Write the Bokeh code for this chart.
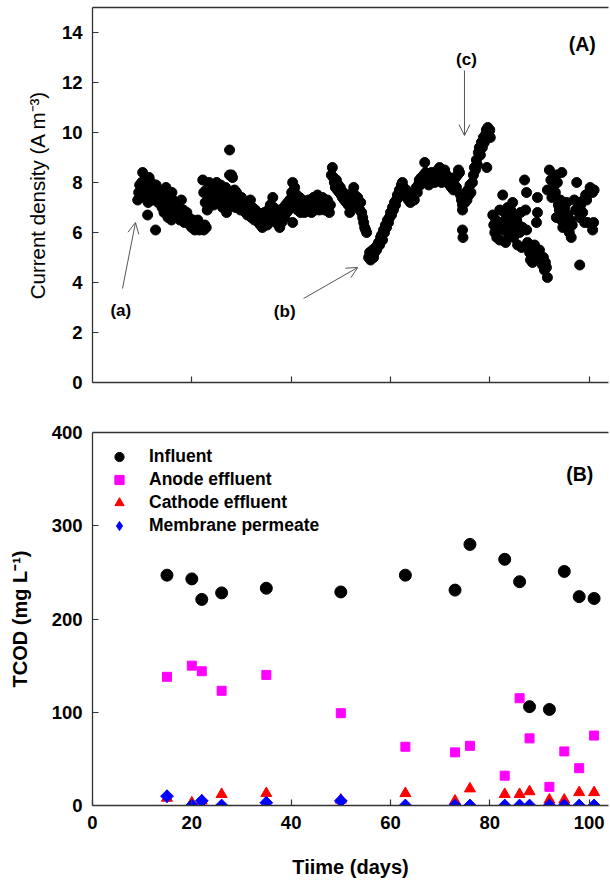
from bokeh.plotting import figure
from bokeh.layouts import column
from bokeh.models import (Range1d, LinearAxis, FixedTicker, Arrow, OpenHead,
                          Label, Legend, LegendItem)
from bokeh.embed import file_html
from bokeh.resources import INLINE

# ---------------- Panel A: current density (day, A m-3) ----------------
seg_start = [(9.1,7.3),(9.3,7.6),(9.5,7.9),(9.7,7.4),(9.9,8.0),(10.1,8.4),(10.3,7.7),(10.5,8.1),
             (10.7,7.5),(10.9,7.9),(11.1,6.7),(11.2,7.2),(11.4,8.2),(11.6,7.6),(11.8,8.0),(12.0,7.3),
             (12.2,7.8),(12.4,7.4),(12.7,6.1),(12.8,7.9),(13.0,7.5),(13.2,7.2),(13.4,7.7),(13.6,7.3),
             (13.8,7.6),(14.0,7.0),(14.2,7.4),(14.4,6.8),(14.6,7.7),(14.8,7.8),(15.0,7.1),(15.2,6.6),
             (15.4,7.5),(15.6,6.9),(15.9,6.5),(16.0,7.6),(16.2,7.3),(16.4,6.7),(16.6,7.1),(16.8,6.9),
             (17.0,6.6),(17.2,7.0),(17.4,6.8),(17.6,6.5),(17.9,7.3),(18.1,6.6),(18.3,6.9),(18.5,6.4),
             (18.7,6.7),(19.0,6.8),(19.2,6.4),(19.4,6.6),(19.6,6.3),(19.8,6.5),(20.0,6.2),(20.2,6.5),
             (20.4,6.3),(20.6,6.1),(20.8,6.4),(21.0,6.2),(21.2,6.5),(21.5,6.1),(21.7,6.3),(22.0,6.2),
             (22.4,6.1),(22.6,6.3),(22.9,6.2)]
seg_plateau = [(22.2,8.1),(22.4,7.6),(22.7,7.2),(22.9,7.7),(23.1,6.9),(23.3,7.5),(23.5,8.0),(23.7,7.3),
               (23.9,7.8),(24.2,7.9),(24.4,7.1),(24.6,7.6),(24.8,7.4),(25.0,8.0),(25.2,7.2),(25.4,7.7),
               (25.6,7.3),(25.8,7.9),(26.0,7.5),(26.2,7.0),(26.4,7.6),(26.6,7.2),(26.8,7.8),(27.0,6.8),
               (27.2,7.4),(27.4,7.1),(27.6,9.3),(27.6,8.3),(27.8,7.6),(28.0,8.3),(28.2,8.2),(28.4,7.3),
               (28.6,7.7),(28.8,7.0),(29.0,7.6),(29.2,7.3),(29.4,7.0),(29.6,7.2),(29.8,6.9),(30.0,7.4),
               (30.2,7.2),(30.4,6.9),(30.6,7.1),(30.8,6.8),(31.0,7.0),(31.2,6.7),(31.4,7.2),(31.6,6.9),
               (31.8,7.3),(32.0,6.6),(32.2,7.0),(32.4,6.7),(32.6,6.5),(32.8,6.9),(33.0,6.5),(33.2,6.8),
               (33.4,6.4),(33.6,6.7),(33.8,6.3),(34.0,6.6),(34.2,6.2),(34.4,6.5),(34.6,6.8),(34.8,6.4),
               (35.0,6.7),(35.2,6.3),(35.4,6.9),(35.6,6.5),(35.8,7.1),(36.0,6.8),(36.3,7.4),(36.5,7.0),
               (36.7,6.7),(36.9,6.4),(37.1,6.9),(37.3,6.6),(37.5,6.3),(37.7,6.2),(37.9,6.7),(38.1,6.4),
               (38.3,6.8),(38.5,7.0),(38.7,6.6),(38.9,7.1),(39.1,6.8),(39.3,7.2),(39.5,6.9),(39.7,7.3),
               (39.9,7.0),(40.1,7.6),(40.3,8.0),(40.3,6.4),(40.5,7.3),(40.7,7.8),(40.9,7.1),(41.1,7.5),
               (41.3,6.9),(41.5,7.2),(41.7,7.4),(41.9,6.8),(42.1,7.1),(42.3,7.3),(42.5,7.0),(42.7,6.8),
               (42.9,7.2),(43.1,7.0),(43.3,6.9),(43.5,7.3),(43.7,7.0),(43.9,7.2),(44.1,6.8),(44.3,7.1),
               (44.5,7.4),(44.7,7.0),(44.9,6.9),(45.1,7.3),(45.3,7.5),(45.5,7.1),(45.7,6.9),(45.9,7.2),
               (46.1,7.0),(46.3,7.4),(46.5,7.1),(46.7,6.9),(46.9,7.2),(47.1,7.0),(47.3,7.3),(47.5,7.0),
               (47.7,6.8),(47.9,7.1)]
seg_drop = [(48.1,8.3),(48.3,8.6),(48.5,8.2),(48.7,8.0),(48.9,7.8),(49.1,8.1),(49.3,7.7),(49.5,7.9),
            (49.7,7.6),(49.9,7.8),(50.1,7.5),(50.3,7.4),(50.5,7.6),(50.7,7.3),(50.9,7.5),(51.1,7.2),
            (51.3,7.4),(51.5,7.1),(51.8,6.8),(51.8,7.4),(52.0,7.5),(52.2,7.3),(52.4,7.6),(52.6,7.8),
            (52.8,7.5),(53.0,7.3),(53.2,7.1),(53.4,7.4),(53.6,7.0),(53.8,6.9),(54.0,7.2),(54.2,6.8),
            (54.4,6.6),(54.6,6.4),(54.8,6.2),(55.0,6.1),(55.2,6.0)]
seg_ramp = [(55.6,5.0),(55.8,5.2),(56.0,4.9),(56.2,5.1),(56.4,5.3),(56.6,5.0),(56.8,5.2),(57.0,5.4),
            (57.2,5.3),(57.4,5.5),(57.6,5.6),(57.8,5.5),(58.0,5.8),(58.2,5.9),(58.4,5.7),(58.6,6.1),
            (58.8,6.0),(59.0,6.3),(59.2,6.2),(59.4,6.5),(59.6,6.4),(59.8,6.6),(60.0,6.8),(60.2,6.7),
            (60.4,7.0),(60.6,6.9),(60.8,7.2),(61.0,7.1),(61.2,7.3),(61.4,7.5),(61.6,7.4),(61.8,7.7),
            (62.0,7.6),(62.2,7.9),(62.4,8.0),(62.6,7.8),(62.8,7.6),(63.0,7.5),(63.2,7.7),(63.4,7.4),
            (63.6,7.3),(63.8,7.5),(64.0,7.2),(64.2,7.4),(64.4,7.3),(64.6,7.5),(64.8,7.3),(65.0,7.6),
            (65.2,7.8),(65.4,7.6),(65.6,7.9),(65.8,8.1),(66.0,7.9),(66.2,8.2),(66.5,8.0),(66.7,8.3),
            (66.9,8.8),(67.1,8.4),(67.3,8.1),(67.5,8.3),(67.7,7.9),(67.9,8.2),(68.1,8.0),(68.3,8.4),
            (68.5,8.1),(68.7,8.3),(68.9,8.0),(69.1,8.4),(69.3,8.2),(69.5,8.5),(69.7,8.1),(69.9,8.6),
            (70.1,8.3),(70.3,8.0),(70.5,8.4),(70.7,8.2),(70.9,8.5),(71.1,8.1),(71.3,8.3),(71.5,8.0),
            (71.7,8.2),(71.9,7.9),(72.1,8.1),(72.3,7.8),(72.5,8.0),(72.7,7.7),(72.9,7.9),(73.1,8.2),
            (73.3,7.8),(73.5,8.3),(73.7,8.5),(73.9,8.4),(74.1,7.5),(74.3,7.3),(74.5,7.1),(74.5,6.9),
            (74.5,6.1),(74.6,5.8),(74.8,7.4),(75.0,7.2),(75.2,7.6),(75.4,7.3),(75.6,7.7),(75.8,7.5),
            (76.0,7.9),(76.2,7.6),(76.5,8.0),(76.7,8.3),(76.9,8.6),(77.1,8.5),(77.3,8.9),(77.5,8.7),
            (77.7,9.2),(77.9,9.4),(78.1,9.1),(78.3,9.6),(78.5,9.4),(78.7,9.8),(78.9,9.6),(79.1,9.9),
            (79.3,10.1),(79.4,8.6),(79.6,10.2),(79.8,10.0),(80.0,10.1),(80.1,9.8)]
seg_scatter = [(80.6,6.7),(80.8,6.3),(81.0,6.0),(81.2,6.5),(81.4,5.8),(81.6,6.2),(82.0,5.7),(82.0,6.9),
               (82.3,6.4),(82.6,7.5),(82.8,6.1),(83.0,6.8),(83.2,5.6),(83.4,6.6),(83.6,7.0),(83.8,5.9),
               (84.0,6.3),(84.2,6.9),(84.4,6.4),(84.6,7.2),(84.8,5.8),(85.0,6.1),(85.2,6.7),(85.4,6.5),
               (85.6,5.5),(85.8,6.3),(86.0,6.0),(86.2,6.8),(86.4,5.4),(86.6,6.2),(87.0,8.1),(87.4,7.6),
               (87.4,6.1),(87.2,6.9),(87.6,5.6),(88.0,5.2),(88.2,4.9),(88.4,5.3),(88.6,4.8),(88.8,5.1),
               (89.0,5.5),(89.6,7.4),(89.6,6.8),(89.4,6.4),(89.8,5.0),(90.0,5.3),(90.2,4.9),(90.6,4.7),
               (90.8,5.0),(91.0,4.5),(91.2,4.8),(91.4,4.6),(91.6,4.2),(91.6,7.7),(92.0,8.5),(92.3,8.1),
               (92.5,7.4),(92.7,7.8),(93.0,7.9),(93.2,7.6),(93.4,8.3),(93.6,8.0),(93.4,6.6),(93.8,7.1),
               (94.0,6.9),(94.2,7.3),(94.5,8.4),(94.4,6.5),(94.7,6.2),(94.9,6.8),(95.1,7.0),(95.3,6.4),
               (95.5,7.2),(95.7,6.7),(96.0,6.0),(96.2,6.5),(96.4,5.8),(96.6,6.3),(97.0,7.3),(97.3,6.9),
               (97.5,8.0),(97.7,6.9),(98.1,6.6),(98.1,4.7),(98.3,7.1),(98.7,6.8),(98.9,7.3),(99.1,6.4),
               (99.3,7.5),(99.5,7.3),(99.7,6.4),(100.0,7.6),(100.2,7.8),(100.4,7.7),(100.7,7.6),
               (100.7,6.1),(100.9,6.4),(101.0,7.7)]
current_pts = seg_start + seg_plateau + seg_drop + seg_ramp + seg_scatter
day = [p[0] for p in current_pts]
current = [p[1] for p in current_pts]

# annotation texts and arrows of panel A (data units)
note_text = ["(a)", "(b)", "(c)"]
note_x = [5.7, 38.7, 75.3]
note_y = [2.88, 2.84, 12.92]
arrow_x0 = [6.04, 42.5, 74.9]
arrow_y0 = [3.76, 3.36, 12.48]
arrow_x1 = [8.66, 53.4, 74.9]
arrow_y1 = [6.4, 4.6, 9.88]

# ---------------- Panel B: TCOD (mg L-1) ----------------
sample_day = [15, 20, 22, 26, 35, 50, 63, 73, 76, 83, 86, 88, 92, 95, 98, 101]
influent = [247, 243, 221, 228, 233, 229, 247, 231, 280, 264, 240, 106, 103, 251, 224, 222]
anode = [138, 150, 144, 123, 140, 99, 63, 57, 64, 32, 115, 72, 20, 58, 40, 75]
cathode = [8, 3, 5, 12, 13, 6, 13, 5, 18, 12, 12, 15, 6, 6, 14, 14]
membrane = [10, 0, 5, 0, 3, 5, 0, 0, 0, 0, 0, 0, 0, 0, 0, 0]
series_names = ["Influent", "Anode effluent", "Cathode effluent", "Membrane permeate"]

FONT = "Liberation Sans"
AX = "#333333"
X_END = 103.9


def style(p):
    p.grid.visible = False
    p.outline_line_color = None
    p.background_fill_color = "white"
    p.border_fill_color = "white"
    for ax in [p.below[0], p.left[0]]:
        ax.axis_line_color = AX
        ax.axis_line_width = 1.3
        ax.major_tick_line_color = AX
        ax.major_tick_line_width = 1.2
        ax.major_tick_in = 6
        ax.major_tick_out = 0
        ax.minor_tick_line_color = None
        ax.major_label_text_font = FONT
        ax.major_label_text_font_style = "bold"
        ax.major_label_text_font_size = "18.5px"
        ax.major_label_text_color = "black"
        ax.major_label_standoff = 10
        ax.axis_label_text_font = FONT
        ax.axis_label_text_color = "black"
        ax.axis_label_text_font_size = "20px"
    return p.below[0], p.left[0]


def add_top_line(p):
    top = LinearAxis(ticker=FixedTicker(ticks=[]), axis_line_color=AX, axis_line_width=1.3,
                     major_tick_in=0, major_tick_out=0, minor_tick_line_color=None,
                     major_label_standoff=0)
    p.add_layout(top, "above")


# ---- figure A ----
p1 = figure(width=610, height=400, x_range=Range1d(0, X_END), y_range=Range1d(0, 15),
            output_backend="svg", toolbar_location=None,
            min_border_left=92, min_border_right=2, min_border_top=7, min_border_bottom=18)
xa1, ya1 = style(p1)
xa1.ticker = FixedTicker(ticks=[20, 40, 60, 80, 100])
xa1.major_label_overrides = {20: "", 40: "", 60: "", 80: "", 100: ""}
xa1.major_label_standoff = 0
ya1.ticker = FixedTicker(ticks=[0, 2, 4, 6, 8, 10, 12, 14])
ya1.axis_label = "Current density (A m\u207b\u00b3)"
ya1.axis_label_text_font_style = "normal"
ya1.axis_label_text_font_size = "20.5px"
ya1.axis_label_standoff = 10
add_top_line(p1)

p1.scatter(day, current, marker="circle", size=10, fill_color="black", line_color="black")

for t, x, y in zip(note_text, note_x, note_y):
    p1.add_layout(Label(x=x, y=y, text=t, text_align="center", text_baseline="middle",
                        text_font=FONT, text_font_style="bold", text_font_size="17px",
                        text_color="black"))
for x0, y0, x1, y1 in zip(arrow_x0, arrow_y0, arrow_x1, arrow_y1):
    p1.add_layout(Arrow(end=OpenHead(size=11, line_color="#555555", line_width=1),
                        x_start=x0, y_start=y0, x_end=x1, y_end=y1,
                        line_color="#555555", line_width=1))
p1.add_layout(Label(x=98.6, y=13.54, text="(A)", text_align="center", text_baseline="middle",
                    text_font=FONT, text_font_style="bold", text_font_size="19.5px",
                    text_color="black"))

# ---- figure B ----
p2 = figure(width=610, height=480, x_range=Range1d(0, X_END), y_range=Range1d(0, 400),
            output_backend="svg", toolbar_location=None,
            min_border_left=92, min_border_right=2, min_border_top=32, min_border_bottom=73)
xa2, ya2 = style(p2)
xa2.ticker = FixedTicker(ticks=[0, 20, 40, 60, 80, 100])
ya2.ticker = FixedTicker(ticks=[0, 100, 200, 300, 400])
ya2.axis_label = "TCOD (mg L\u207b\u00b9)"
ya2.axis_label_text_font_style = "bold"
ya2.axis_label_standoff = 18
xa2.axis_label = "Tiime (days)"
xa2.axis_label_text_font_style = "bold"
xa2.axis_label_standoff = 24
add_top_line(p2)

r1 = p2.scatter(sample_day, influent, marker="circle", size=12, color="black")
r2 = p2.scatter(sample_day, anode, marker="square", size=9, color="#ff00ff")
r3 = p2.scatter(sample_day, cathode, marker="triangle", size=11, color="#ff0000")
# diamond drawn under the rotated squares; it supplies the legend symbol
r4_key = p2.scatter(sample_day, membrane, marker="diamond", size=12.5, color="#0000ff")
r4 = p2.scatter(sample_day, membrane, marker="square", angle=0.785398, size=9, color="#0000ff")

legend = Legend(items=[LegendItem(label=n, renderers=[r]) for n, r in
                       zip(series_names, [r1, r2, r3, r4_key])],
                location="top_left", border_line_color=None, background_fill_alpha=0,
                label_text_font=FONT, label_text_font_style="bold",
                label_text_font_size="17.5px", label_text_color="black",
                glyph_width=28, glyph_height=23, label_height=23, spacing=0,
                margin=13, padding=0, label_standoff=16)
p2.add_layout(legend)
p2.add_layout(Label(x=98.1, y=355, text="(B)", text_align="center", text_baseline="middle",
                    text_font=FONT, text_font_style="bold", text_font_size="19.5px",
                    text_color="black"))

layout = column(p1, p2, spacing=0)
open("out.html", "w").write(file_html(layout, INLINE))
